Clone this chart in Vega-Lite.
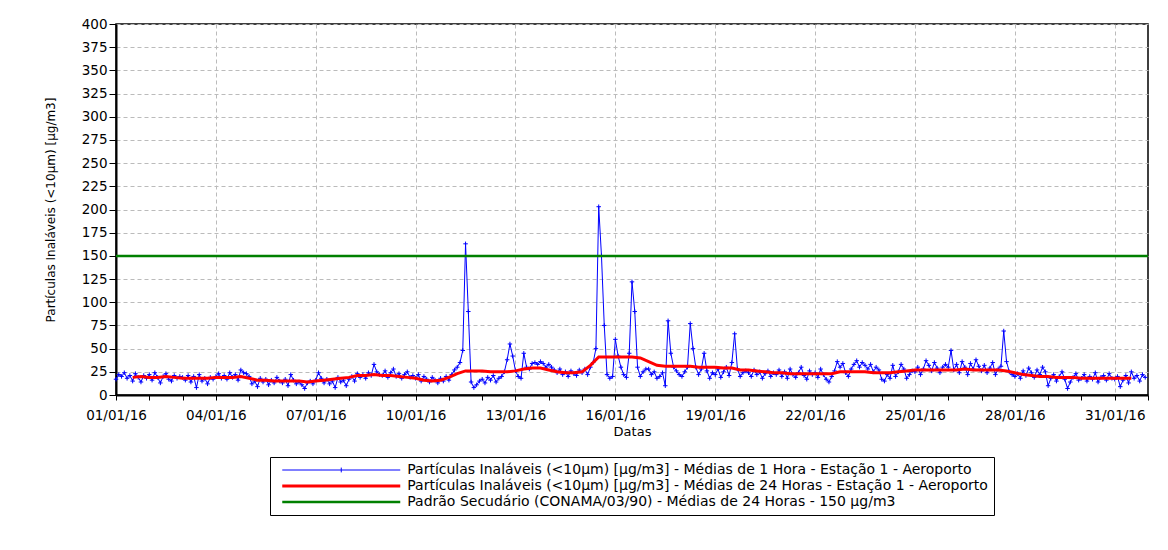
{
"$schema": "https://vega.github.io/schema/vega-lite/v6.json",
"autosize": {"type": "none"},
"width": 1032,
"height": 371,
"padding": {"left": 116, "top": 24, "right": 20, "bottom": 155},
"background": "white",
"config": {
  "font": "DejaVu Sans",
  "view": {"stroke": "#000", "strokeWidth": 1.5},
  "legend": {
    "orient": "none", "legendX": 154, "legendY": 433,
    "strokeColor": "#000", "fillColor": "#fff", "padding": 6,
    "rowPadding": 2, "labelFont": "DejaVu Sans", "labelFontSize": 14, "labelColor": "#000", "labelLimit": 1000,
    "symbolType": "M-14.75,0H14.75", "symbolSize": 64, "symbolOffset": 58.25, "labelOffset": 59, "symbolStrokeWidth": 3,
    "title": null
  }
},
"datasets": {
"h1": [
{"s":"h1","t":"2016-01-01T00:00","v":17},{"s":"h1","t":"2016-01-01T02:00","v":22},{"s":"h1","t":"2016-01-01T04:00","v":20},{"s":"h1","t":"2016-01-01T06:00","v":24},{"s":"h1","t":"2016-01-01T08:00","v":18},{"s":"h1","t":"2016-01-01T10:00","v":21},{"s":"h1","t":"2016-01-01T12:00","v":15},{"s":"h1","t":"2016-01-01T14:00","v":23},{"s":"h1","t":"2016-01-01T16:00","v":19},{"s":"h1","t":"2016-01-01T18:00","v":14},{"s":"h1","t":"2016-01-01T20:00","v":21},{"s":"h1","t":"2016-01-01T22:00","v":18},
{"s":"h1","t":"2016-01-02T00:00","v":22},{"s":"h1","t":"2016-01-02T02:00","v":16},{"s":"h1","t":"2016-01-02T04:00","v":24},{"s":"h1","t":"2016-01-02T06:00","v":19},{"s":"h1","t":"2016-01-02T08:00","v":13},{"s":"h1","t":"2016-01-02T10:00","v":20},{"s":"h1","t":"2016-01-02T12:00","v":23},{"s":"h1","t":"2016-01-02T14:00","v":17},{"s":"h1","t":"2016-01-02T16:00","v":15},{"s":"h1","t":"2016-01-02T18:00","v":21},{"s":"h1","t":"2016-01-02T20:00","v":18},{"s":"h1","t":"2016-01-02T22:00","v":20},
{"s":"h1","t":"2016-01-03T00:00","v":19},{"s":"h1","t":"2016-01-03T02:00","v":16},{"s":"h1","t":"2016-01-03T04:00","v":21},{"s":"h1","t":"2016-01-03T06:00","v":14},{"s":"h1","t":"2016-01-03T08:00","v":20},{"s":"h1","t":"2016-01-03T10:00","v":8},{"s":"h1","t":"2016-01-03T12:00","v":22},{"s":"h1","t":"2016-01-03T14:00","v":15},{"s":"h1","t":"2016-01-03T16:00","v":18},{"s":"h1","t":"2016-01-03T18:00","v":12},{"s":"h1","t":"2016-01-03T20:00","v":19},{"s":"h1","t":"2016-01-03T22:00","v":17},
{"s":"h1","t":"2016-01-04T00:00","v":20},{"s":"h1","t":"2016-01-04T02:00","v":23},{"s":"h1","t":"2016-01-04T04:00","v":18},{"s":"h1","t":"2016-01-04T06:00","v":21},{"s":"h1","t":"2016-01-04T08:00","v":17},{"s":"h1","t":"2016-01-04T10:00","v":24},{"s":"h1","t":"2016-01-04T12:00","v":19},{"s":"h1","t":"2016-01-04T14:00","v":22},{"s":"h1","t":"2016-01-04T16:00","v":16},{"s":"h1","t":"2016-01-04T18:00","v":27},{"s":"h1","t":"2016-01-04T20:00","v":24},{"s":"h1","t":"2016-01-04T22:00","v":23},
{"s":"h1","t":"2016-01-05T00:00","v":20},{"s":"h1","t":"2016-01-05T02:00","v":12},{"s":"h1","t":"2016-01-05T04:00","v":15},{"s":"h1","t":"2016-01-05T06:00","v":9},{"s":"h1","t":"2016-01-05T08:00","v":18},{"s":"h1","t":"2016-01-05T10:00","v":14},{"s":"h1","t":"2016-01-05T12:00","v":17},{"s":"h1","t":"2016-01-05T14:00","v":11},{"s":"h1","t":"2016-01-05T16:00","v":16},{"s":"h1","t":"2016-01-05T18:00","v":13},{"s":"h1","t":"2016-01-05T20:00","v":19},{"s":"h1","t":"2016-01-05T22:00","v":15},
{"s":"h1","t":"2016-01-06T00:00","v":13},{"s":"h1","t":"2016-01-06T02:00","v":17},{"s":"h1","t":"2016-01-06T04:00","v":10},{"s":"h1","t":"2016-01-06T06:00","v":22},{"s":"h1","t":"2016-01-06T08:00","v":16},{"s":"h1","t":"2016-01-06T10:00","v":12},{"s":"h1","t":"2016-01-06T12:00","v":14},{"s":"h1","t":"2016-01-06T14:00","v":11},{"s":"h1","t":"2016-01-06T16:00","v":7},{"s":"h1","t":"2016-01-06T18:00","v":13},{"s":"h1","t":"2016-01-06T20:00","v":15},{"s":"h1","t":"2016-01-06T22:00","v":12},
{"s":"h1","t":"2016-01-07T00:00","v":16},{"s":"h1","t":"2016-01-07T02:00","v":24},{"s":"h1","t":"2016-01-07T04:00","v":18},{"s":"h1","t":"2016-01-07T06:00","v":13},{"s":"h1","t":"2016-01-07T08:00","v":17},{"s":"h1","t":"2016-01-07T10:00","v":12},{"s":"h1","t":"2016-01-07T12:00","v":15},{"s":"h1","t":"2016-01-07T14:00","v":8},{"s":"h1","t":"2016-01-07T16:00","v":19},{"s":"h1","t":"2016-01-07T18:00","v":14},{"s":"h1","t":"2016-01-07T20:00","v":16},{"s":"h1","t":"2016-01-07T22:00","v":10},
{"s":"h1","t":"2016-01-08T00:00","v":17},{"s":"h1","t":"2016-01-08T02:00","v":20},{"s":"h1","t":"2016-01-08T04:00","v":15},{"s":"h1","t":"2016-01-08T06:00","v":23},{"s":"h1","t":"2016-01-08T08:00","v":19},{"s":"h1","t":"2016-01-08T10:00","v":22},{"s":"h1","t":"2016-01-08T12:00","v":18},{"s":"h1","t":"2016-01-08T14:00","v":24},{"s":"h1","t":"2016-01-08T16:00","v":21},{"s":"h1","t":"2016-01-08T18:00","v":33},{"s":"h1","t":"2016-01-08T20:00","v":25},{"s":"h1","t":"2016-01-08T22:00","v":22},
{"s":"h1","t":"2016-01-09T00:00","v":21},{"s":"h1","t":"2016-01-09T02:00","v":26},{"s":"h1","t":"2016-01-09T04:00","v":19},{"s":"h1","t":"2016-01-09T06:00","v":24},{"s":"h1","t":"2016-01-09T08:00","v":28},{"s":"h1","t":"2016-01-09T10:00","v":20},{"s":"h1","t":"2016-01-09T12:00","v":23},{"s":"h1","t":"2016-01-09T14:00","v":18},{"s":"h1","t":"2016-01-09T16:00","v":22},{"s":"h1","t":"2016-01-09T18:00","v":25},{"s":"h1","t":"2016-01-09T20:00","v":19},{"s":"h1","t":"2016-01-09T22:00","v":21},
{"s":"h1","t":"2016-01-10T00:00","v":18},{"s":"h1","t":"2016-01-10T02:00","v":22},{"s":"h1","t":"2016-01-10T04:00","v":15},{"s":"h1","t":"2016-01-10T06:00","v":20},{"s":"h1","t":"2016-01-10T08:00","v":17},{"s":"h1","t":"2016-01-10T10:00","v":14},{"s":"h1","t":"2016-01-10T12:00","v":19},{"s":"h1","t":"2016-01-10T14:00","v":16},{"s":"h1","t":"2016-01-10T16:00","v":13},{"s":"h1","t":"2016-01-10T18:00","v":18},{"s":"h1","t":"2016-01-10T20:00","v":15},{"s":"h1","t":"2016-01-10T22:00","v":20},
{"s":"h1","t":"2016-01-11T00:00","v":16},{"s":"h1","t":"2016-01-11T02:00","v":22},{"s":"h1","t":"2016-01-11T04:00","v":27},{"s":"h1","t":"2016-01-11T06:00","v":30},{"s":"h1","t":"2016-01-11T08:00","v":35},{"s":"h1","t":"2016-01-11T10:00","v":48},{"s":"h1","t":"2016-01-11T12:00","v":163},{"s":"h1","t":"2016-01-11T14:00","v":90},{"s":"h1","t":"2016-01-11T16:00","v":14},{"s":"h1","t":"2016-01-11T18:00","v":8},{"s":"h1","t":"2016-01-11T20:00","v":11},{"s":"h1","t":"2016-01-11T22:00","v":15},
{"s":"h1","t":"2016-01-12T00:00","v":17},{"s":"h1","t":"2016-01-12T02:00","v":13},{"s":"h1","t":"2016-01-12T04:00","v":19},{"s":"h1","t":"2016-01-12T06:00","v":16},{"s":"h1","t":"2016-01-12T08:00","v":21},{"s":"h1","t":"2016-01-12T10:00","v":14},{"s":"h1","t":"2016-01-12T12:00","v":18},{"s":"h1","t":"2016-01-12T14:00","v":20},{"s":"h1","t":"2016-01-12T16:00","v":25},{"s":"h1","t":"2016-01-12T18:00","v":38},{"s":"h1","t":"2016-01-12T20:00","v":55},{"s":"h1","t":"2016-01-12T22:00","v":42},
{"s":"h1","t":"2016-01-13T00:00","v":26},{"s":"h1","t":"2016-01-13T02:00","v":20},{"s":"h1","t":"2016-01-13T04:00","v":18},{"s":"h1","t":"2016-01-13T06:00","v":45},{"s":"h1","t":"2016-01-13T08:00","v":30},{"s":"h1","t":"2016-01-13T10:00","v":28},{"s":"h1","t":"2016-01-13T12:00","v":34},{"s":"h1","t":"2016-01-13T14:00","v":35},{"s":"h1","t":"2016-01-13T16:00","v":33},{"s":"h1","t":"2016-01-13T18:00","v":36},{"s":"h1","t":"2016-01-13T20:00","v":34},{"s":"h1","t":"2016-01-13T22:00","v":30},
{"s":"h1","t":"2016-01-14T00:00","v":33},{"s":"h1","t":"2016-01-14T02:00","v":30},{"s":"h1","t":"2016-01-14T04:00","v":27},{"s":"h1","t":"2016-01-14T06:00","v":24},{"s":"h1","t":"2016-01-14T08:00","v":28},{"s":"h1","t":"2016-01-14T10:00","v":22},{"s":"h1","t":"2016-01-14T12:00","v":25},{"s":"h1","t":"2016-01-14T14:00","v":20},{"s":"h1","t":"2016-01-14T16:00","v":26},{"s":"h1","t":"2016-01-14T18:00","v":23},{"s":"h1","t":"2016-01-14T20:00","v":21},{"s":"h1","t":"2016-01-14T22:00","v":27},
{"s":"h1","t":"2016-01-15T00:00","v":24},{"s":"h1","t":"2016-01-15T02:00","v":28},{"s":"h1","t":"2016-01-15T04:00","v":22},{"s":"h1","t":"2016-01-15T06:00","v":30},{"s":"h1","t":"2016-01-15T08:00","v":35},{"s":"h1","t":"2016-01-15T10:00","v":50},{"s":"h1","t":"2016-01-15T12:00","v":203},{"s":"h1","t":"2016-01-15T14:00","v":150},{"s":"h1","t":"2016-01-15T16:00","v":75},{"s":"h1","t":"2016-01-15T18:00","v":22},{"s":"h1","t":"2016-01-15T20:00","v":18},{"s":"h1","t":"2016-01-15T22:00","v":20},
{"s":"h1","t":"2016-01-16T00:00","v":60},{"s":"h1","t":"2016-01-16T02:00","v":42},{"s":"h1","t":"2016-01-16T04:00","v":30},{"s":"h1","t":"2016-01-16T06:00","v":22},{"s":"h1","t":"2016-01-16T08:00","v":19},{"s":"h1","t":"2016-01-16T10:00","v":45},{"s":"h1","t":"2016-01-16T12:00","v":122},{"s":"h1","t":"2016-01-16T14:00","v":90},{"s":"h1","t":"2016-01-16T16:00","v":30},{"s":"h1","t":"2016-01-16T18:00","v":20},{"s":"h1","t":"2016-01-16T20:00","v":25},{"s":"h1","t":"2016-01-16T22:00","v":28},
{"s":"h1","t":"2016-01-17T00:00","v":28},{"s":"h1","t":"2016-01-17T02:00","v":22},{"s":"h1","t":"2016-01-17T04:00","v":25},{"s":"h1","t":"2016-01-17T06:00","v":18},{"s":"h1","t":"2016-01-17T08:00","v":20},{"s":"h1","t":"2016-01-17T10:00","v":24},{"s":"h1","t":"2016-01-17T12:00","v":10},{"s":"h1","t":"2016-01-17T14:00","v":80},{"s":"h1","t":"2016-01-17T16:00","v":45},{"s":"h1","t":"2016-01-17T18:00","v":30},{"s":"h1","t":"2016-01-17T20:00","v":26},{"s":"h1","t":"2016-01-17T22:00","v":22},
{"s":"h1","t":"2016-01-18T00:00","v":20},{"s":"h1","t":"2016-01-18T02:00","v":25},{"s":"h1","t":"2016-01-18T04:00","v":30},{"s":"h1","t":"2016-01-18T06:00","v":77},{"s":"h1","t":"2016-01-18T08:00","v":50},{"s":"h1","t":"2016-01-18T10:00","v":30},{"s":"h1","t":"2016-01-18T12:00","v":22},{"s":"h1","t":"2016-01-18T14:00","v":28},{"s":"h1","t":"2016-01-18T16:00","v":45},{"s":"h1","t":"2016-01-18T18:00","v":26},{"s":"h1","t":"2016-01-18T20:00","v":18},{"s":"h1","t":"2016-01-18T22:00","v":24},
{"s":"h1","t":"2016-01-19T00:00","v":22},{"s":"h1","t":"2016-01-19T02:00","v":28},{"s":"h1","t":"2016-01-19T04:00","v":19},{"s":"h1","t":"2016-01-19T06:00","v":25},{"s":"h1","t":"2016-01-19T08:00","v":30},{"s":"h1","t":"2016-01-19T10:00","v":21},{"s":"h1","t":"2016-01-19T12:00","v":35},{"s":"h1","t":"2016-01-19T14:00","v":66},{"s":"h1","t":"2016-01-19T16:00","v":28},{"s":"h1","t":"2016-01-19T18:00","v":20},{"s":"h1","t":"2016-01-19T20:00","v":24},{"s":"h1","t":"2016-01-19T22:00","v":26},
{"s":"h1","t":"2016-01-20T00:00","v":24},{"s":"h1","t":"2016-01-20T02:00","v":20},{"s":"h1","t":"2016-01-20T04:00","v":27},{"s":"h1","t":"2016-01-20T06:00","v":22},{"s":"h1","t":"2016-01-20T08:00","v":25},{"s":"h1","t":"2016-01-20T10:00","v":18},{"s":"h1","t":"2016-01-20T12:00","v":23},{"s":"h1","t":"2016-01-20T14:00","v":26},{"s":"h1","t":"2016-01-20T16:00","v":20},{"s":"h1","t":"2016-01-20T18:00","v":24},{"s":"h1","t":"2016-01-20T20:00","v":22},{"s":"h1","t":"2016-01-20T22:00","v":27},
{"s":"h1","t":"2016-01-21T00:00","v":20},{"s":"h1","t":"2016-01-21T02:00","v":25},{"s":"h1","t":"2016-01-21T04:00","v":18},{"s":"h1","t":"2016-01-21T06:00","v":28},{"s":"h1","t":"2016-01-21T08:00","v":22},{"s":"h1","t":"2016-01-21T10:00","v":19},{"s":"h1","t":"2016-01-21T12:00","v":24},{"s":"h1","t":"2016-01-21T14:00","v":30},{"s":"h1","t":"2016-01-21T16:00","v":21},{"s":"h1","t":"2016-01-21T18:00","v":17},{"s":"h1","t":"2016-01-21T20:00","v":26},{"s":"h1","t":"2016-01-21T22:00","v":22},
{"s":"h1","t":"2016-01-22T00:00","v":24},{"s":"h1","t":"2016-01-22T02:00","v":19},{"s":"h1","t":"2016-01-22T04:00","v":28},{"s":"h1","t":"2016-01-22T06:00","v":22},{"s":"h1","t":"2016-01-22T08:00","v":17},{"s":"h1","t":"2016-01-22T10:00","v":14},{"s":"h1","t":"2016-01-22T12:00","v":20},{"s":"h1","t":"2016-01-22T14:00","v":26},{"s":"h1","t":"2016-01-22T16:00","v":36},{"s":"h1","t":"2016-01-22T18:00","v":30},{"s":"h1","t":"2016-01-22T20:00","v":34},{"s":"h1","t":"2016-01-22T22:00","v":24},
{"s":"h1","t":"2016-01-23T00:00","v":20},{"s":"h1","t":"2016-01-23T02:00","v":28},{"s":"h1","t":"2016-01-23T04:00","v":33},{"s":"h1","t":"2016-01-23T06:00","v":37},{"s":"h1","t":"2016-01-23T08:00","v":30},{"s":"h1","t":"2016-01-23T10:00","v":35},{"s":"h1","t":"2016-01-23T12:00","v":32},{"s":"h1","t":"2016-01-23T14:00","v":28},{"s":"h1","t":"2016-01-23T16:00","v":33},{"s":"h1","t":"2016-01-23T18:00","v":25},{"s":"h1","t":"2016-01-23T20:00","v":30},{"s":"h1","t":"2016-01-23T22:00","v":27},
{"s":"h1","t":"2016-01-24T00:00","v":17},{"s":"h1","t":"2016-01-24T02:00","v":15},{"s":"h1","t":"2016-01-24T04:00","v":22},{"s":"h1","t":"2016-01-24T06:00","v":18},{"s":"h1","t":"2016-01-24T08:00","v":32},{"s":"h1","t":"2016-01-24T10:00","v":20},{"s":"h1","t":"2016-01-24T12:00","v":25},{"s":"h1","t":"2016-01-24T14:00","v":33},{"s":"h1","t":"2016-01-24T16:00","v":28},{"s":"h1","t":"2016-01-24T18:00","v":18},{"s":"h1","t":"2016-01-24T20:00","v":22},{"s":"h1","t":"2016-01-24T22:00","v":26},
{"s":"h1","t":"2016-01-25T00:00","v":25},{"s":"h1","t":"2016-01-25T02:00","v":30},{"s":"h1","t":"2016-01-25T04:00","v":22},{"s":"h1","t":"2016-01-25T06:00","v":28},{"s":"h1","t":"2016-01-25T08:00","v":37},{"s":"h1","t":"2016-01-25T10:00","v":32},{"s":"h1","t":"2016-01-25T12:00","v":26},{"s":"h1","t":"2016-01-25T14:00","v":35},{"s":"h1","t":"2016-01-25T16:00","v":29},{"s":"h1","t":"2016-01-25T18:00","v":24},{"s":"h1","t":"2016-01-25T20:00","v":30},{"s":"h1","t":"2016-01-25T22:00","v":33},
{"s":"h1","t":"2016-01-26T00:00","v":30},{"s":"h1","t":"2016-01-26T02:00","v":48},{"s":"h1","t":"2016-01-26T04:00","v":27},{"s":"h1","t":"2016-01-26T06:00","v":33},{"s":"h1","t":"2016-01-26T08:00","v":24},{"s":"h1","t":"2016-01-26T10:00","v":36},{"s":"h1","t":"2016-01-26T12:00","v":30},{"s":"h1","t":"2016-01-26T14:00","v":22},{"s":"h1","t":"2016-01-26T16:00","v":34},{"s":"h1","t":"2016-01-26T18:00","v":28},{"s":"h1","t":"2016-01-26T20:00","v":38},{"s":"h1","t":"2016-01-26T22:00","v":31},
{"s":"h1","t":"2016-01-27T00:00","v":26},{"s":"h1","t":"2016-01-27T02:00","v":32},{"s":"h1","t":"2016-01-27T04:00","v":24},{"s":"h1","t":"2016-01-27T06:00","v":29},{"s":"h1","t":"2016-01-27T08:00","v":35},{"s":"h1","t":"2016-01-27T10:00","v":22},{"s":"h1","t":"2016-01-27T12:00","v":28},{"s":"h1","t":"2016-01-27T14:00","v":31},{"s":"h1","t":"2016-01-27T16:00","v":69},{"s":"h1","t":"2016-01-27T18:00","v":36},{"s":"h1","t":"2016-01-27T20:00","v":25},{"s":"h1","t":"2016-01-27T22:00","v":22},
{"s":"h1","t":"2016-01-28T00:00","v":20},{"s":"h1","t":"2016-01-28T02:00","v":23},{"s":"h1","t":"2016-01-28T04:00","v":18},{"s":"h1","t":"2016-01-28T06:00","v":26},{"s":"h1","t":"2016-01-28T08:00","v":21},{"s":"h1","t":"2016-01-28T10:00","v":29},{"s":"h1","t":"2016-01-28T12:00","v":24},{"s":"h1","t":"2016-01-28T14:00","v":19},{"s":"h1","t":"2016-01-28T16:00","v":27},{"s":"h1","t":"2016-01-28T18:00","v":22},{"s":"h1","t":"2016-01-28T20:00","v":30},{"s":"h1","t":"2016-01-28T22:00","v":25},
{"s":"h1","t":"2016-01-29T00:00","v":10},{"s":"h1","t":"2016-01-29T02:00","v":18},{"s":"h1","t":"2016-01-29T04:00","v":22},{"s":"h1","t":"2016-01-29T06:00","v":15},{"s":"h1","t":"2016-01-29T08:00","v":20},{"s":"h1","t":"2016-01-29T10:00","v":25},{"s":"h1","t":"2016-01-29T12:00","v":17},{"s":"h1","t":"2016-01-29T14:00","v":7},{"s":"h1","t":"2016-01-29T16:00","v":14},{"s":"h1","t":"2016-01-29T18:00","v":19},{"s":"h1","t":"2016-01-29T20:00","v":23},{"s":"h1","t":"2016-01-29T22:00","v":16},
{"s":"h1","t":"2016-01-30T00:00","v":18},{"s":"h1","t":"2016-01-30T02:00","v":22},{"s":"h1","t":"2016-01-30T04:00","v":15},{"s":"h1","t":"2016-01-30T06:00","v":20},{"s":"h1","t":"2016-01-30T08:00","v":17},{"s":"h1","t":"2016-01-30T10:00","v":24},{"s":"h1","t":"2016-01-30T12:00","v":14},{"s":"h1","t":"2016-01-30T14:00","v":19},{"s":"h1","t":"2016-01-30T16:00","v":21},{"s":"h1","t":"2016-01-30T18:00","v":16},{"s":"h1","t":"2016-01-30T20:00","v":23},{"s":"h1","t":"2016-01-30T22:00","v":18},
{"s":"h1","t":"2016-01-31T00:00","v":17},{"s":"h1","t":"2016-01-31T02:00","v":20},{"s":"h1","t":"2016-01-31T04:00","v":9},{"s":"h1","t":"2016-01-31T06:00","v":16},{"s":"h1","t":"2016-01-31T08:00","v":21},{"s":"h1","t":"2016-01-31T10:00","v":13},{"s":"h1","t":"2016-01-31T12:00","v":25},{"s":"h1","t":"2016-01-31T14:00","v":18},{"s":"h1","t":"2016-01-31T16:00","v":21},{"s":"h1","t":"2016-01-31T18:00","v":15},{"s":"h1","t":"2016-01-31T20:00","v":22},{"s":"h1","t":"2016-01-31T22:00","v":19}
],
"h24": [
{"s":"h24","t":"2016-01-01T12:00","v":19},{"s":"h24","t":"2016-01-01T18:00","v":20},
{"s":"h24","t":"2016-01-02T00:00","v":19},{"s":"h24","t":"2016-01-02T06:00","v":19},{"s":"h24","t":"2016-01-02T12:00","v":20},{"s":"h24","t":"2016-01-02T18:00","v":19},
{"s":"h24","t":"2016-01-03T00:00","v":18},{"s":"h24","t":"2016-01-03T06:00","v":18},{"s":"h24","t":"2016-01-03T12:00","v":18},{"s":"h24","t":"2016-01-03T18:00","v":18},
{"s":"h24","t":"2016-01-04T00:00","v":19},{"s":"h24","t":"2016-01-04T06:00","v":19},{"s":"h24","t":"2016-01-04T12:00","v":19},{"s":"h24","t":"2016-01-04T18:00","v":20},
{"s":"h24","t":"2016-01-05T00:00","v":18},{"s":"h24","t":"2016-01-05T06:00","v":16},{"s":"h24","t":"2016-01-05T12:00","v":16},{"s":"h24","t":"2016-01-05T18:00","v":15},
{"s":"h24","t":"2016-01-06T00:00","v":15},{"s":"h24","t":"2016-01-06T06:00","v":15},{"s":"h24","t":"2016-01-06T12:00","v":15},{"s":"h24","t":"2016-01-06T18:00","v":14},
{"s":"h24","t":"2016-01-07T00:00","v":15},{"s":"h24","t":"2016-01-07T06:00","v":16},{"s":"h24","t":"2016-01-07T12:00","v":17},{"s":"h24","t":"2016-01-07T18:00","v":18},
{"s":"h24","t":"2016-01-08T00:00","v":19},{"s":"h24","t":"2016-01-08T06:00","v":21},{"s":"h24","t":"2016-01-08T12:00","v":21},{"s":"h24","t":"2016-01-08T18:00","v":22},
{"s":"h24","t":"2016-01-09T00:00","v":21},{"s":"h24","t":"2016-01-09T06:00","v":21},{"s":"h24","t":"2016-01-09T12:00","v":20},{"s":"h24","t":"2016-01-09T18:00","v":19},
{"s":"h24","t":"2016-01-10T00:00","v":18},{"s":"h24","t":"2016-01-10T06:00","v":16},{"s":"h24","t":"2016-01-10T12:00","v":15},{"s":"h24","t":"2016-01-10T18:00","v":16},
{"s":"h24","t":"2016-01-11T00:00","v":19},{"s":"h24","t":"2016-01-11T06:00","v":23},{"s":"h24","t":"2016-01-11T12:00","v":26},{"s":"h24","t":"2016-01-11T18:00","v":26},
{"s":"h24","t":"2016-01-12T00:00","v":26},{"s":"h24","t":"2016-01-12T06:00","v":25},{"s":"h24","t":"2016-01-12T12:00","v":25},{"s":"h24","t":"2016-01-12T18:00","v":25},
{"s":"h24","t":"2016-01-13T00:00","v":26},{"s":"h24","t":"2016-01-13T06:00","v":28},{"s":"h24","t":"2016-01-13T12:00","v":29},{"s":"h24","t":"2016-01-13T18:00","v":29},
{"s":"h24","t":"2016-01-14T00:00","v":27},{"s":"h24","t":"2016-01-14T06:00","v":25},{"s":"h24","t":"2016-01-14T12:00","v":24},{"s":"h24","t":"2016-01-14T18:00","v":24},
{"s":"h24","t":"2016-01-15T00:00","v":25},{"s":"h24","t":"2016-01-15T06:00","v":32},{"s":"h24","t":"2016-01-15T12:00","v":41},{"s":"h24","t":"2016-01-15T18:00","v":41},
{"s":"h24","t":"2016-01-16T00:00","v":41},{"s":"h24","t":"2016-01-16T06:00","v":41},{"s":"h24","t":"2016-01-16T12:00","v":41},{"s":"h24","t":"2016-01-16T18:00","v":40},
{"s":"h24","t":"2016-01-17T00:00","v":36},{"s":"h24","t":"2016-01-17T06:00","v":32},{"s":"h24","t":"2016-01-17T12:00","v":31},{"s":"h24","t":"2016-01-17T18:00","v":31},
{"s":"h24","t":"2016-01-18T00:00","v":31},{"s":"h24","t":"2016-01-18T06:00","v":31},{"s":"h24","t":"2016-01-18T12:00","v":30},{"s":"h24","t":"2016-01-18T18:00","v":30},
{"s":"h24","t":"2016-01-19T00:00","v":30},{"s":"h24","t":"2016-01-19T06:00","v":29},{"s":"h24","t":"2016-01-19T12:00","v":29},{"s":"h24","t":"2016-01-19T18:00","v":27},
{"s":"h24","t":"2016-01-20T00:00","v":27},{"s":"h24","t":"2016-01-20T06:00","v":26},{"s":"h24","t":"2016-01-20T12:00","v":25},{"s":"h24","t":"2016-01-20T18:00","v":24},
{"s":"h24","t":"2016-01-21T00:00","v":24},{"s":"h24","t":"2016-01-21T06:00","v":23},{"s":"h24","t":"2016-01-21T12:00","v":23},{"s":"h24","t":"2016-01-21T18:00","v":23},
{"s":"h24","t":"2016-01-22T00:00","v":23},{"s":"h24","t":"2016-01-22T06:00","v":23},{"s":"h24","t":"2016-01-22T12:00","v":23},{"s":"h24","t":"2016-01-22T18:00","v":25},
{"s":"h24","t":"2016-01-23T00:00","v":25},{"s":"h24","t":"2016-01-23T06:00","v":25},{"s":"h24","t":"2016-01-23T12:00","v":25},{"s":"h24","t":"2016-01-23T18:00","v":24},
{"s":"h24","t":"2016-01-24T00:00","v":24},{"s":"h24","t":"2016-01-24T06:00","v":24},{"s":"h24","t":"2016-01-24T12:00","v":25},{"s":"h24","t":"2016-01-24T18:00","v":26},
{"s":"h24","t":"2016-01-25T00:00","v":27},{"s":"h24","t":"2016-01-25T06:00","v":27},{"s":"h24","t":"2016-01-25T12:00","v":27},{"s":"h24","t":"2016-01-25T18:00","v":27},
{"s":"h24","t":"2016-01-26T00:00","v":27},{"s":"h24","t":"2016-01-26T06:00","v":27},{"s":"h24","t":"2016-01-26T12:00","v":28},{"s":"h24","t":"2016-01-26T18:00","v":27},
{"s":"h24","t":"2016-01-27T00:00","v":27},{"s":"h24","t":"2016-01-27T06:00","v":27},{"s":"h24","t":"2016-01-27T12:00","v":27},{"s":"h24","t":"2016-01-27T18:00","v":26},
{"s":"h24","t":"2016-01-28T00:00","v":24},{"s":"h24","t":"2016-01-28T06:00","v":22},{"s":"h24","t":"2016-01-28T12:00","v":21},{"s":"h24","t":"2016-01-28T18:00","v":20},
{"s":"h24","t":"2016-01-29T00:00","v":20},{"s":"h24","t":"2016-01-29T06:00","v":19},{"s":"h24","t":"2016-01-29T12:00","v":19},{"s":"h24","t":"2016-01-29T18:00","v":19},
{"s":"h24","t":"2016-01-30T00:00","v":18},{"s":"h24","t":"2016-01-30T06:00","v":18},{"s":"h24","t":"2016-01-30T12:00","v":18},{"s":"h24","t":"2016-01-30T18:00","v":18},
{"s":"h24","t":"2016-01-31T00:00","v":18},{"s":"h24","t":"2016-01-31T06:00","v":18},{"s":"h24","t":"2016-01-31T12:00","v":18}
],
"pad": [{"s":"pad","v":150}]
},
"encoding": {
  "y": {"field": "v", "type": "quantitative",
    "scale": {"domain": [0, 400], "nice": false},
    "axis": {"title": "Partículas Inaláveis (<10µm) [µg/m3]", "titleFont": "DejaVu Sans", "titleFontSize": 12, "titleFontWeight": "normal", "titleColor": "#000", "titlePadding": 24,
      "values": [0,25,50,75,100,125,150,175,200,225,250,275,300,325,350,375,400],
      "labelFontSize": 13.5, "labelColor": "#000", "labelPadding": 2, "labelOverlap": false, "labelFlush": false,
      "domainColor": "#000", "domainWidth": 2, "tickColor": "#000", "tickSize": 7,
      "grid": true, "gridColor": "#bbbbbb", "gridDash": [4, 3]}}
},
"layer": [
{
  "data": {"name": "h1"},
  "mark": {"type": "line", "strokeWidth": 1, "point": {"shape": "M-1,0H1M0,-1V1", "filled": false, "size": 20, "strokeWidth": 1}},
  "encoding": {
    "x": {"field": "t", "type": "temporal",
      "scale": {"domain": [{"year": 2016, "month": 1, "date": 1}, {"year": 2016, "month": 2, "date": 1}], "nice": false},
      "axis": {"title": "Datas", "titleFont": "DejaVu Sans", "titleFontSize": 13, "titleFontWeight": "normal", "titleColor": "#000", "titlePadding": 4,
        "tickCount": {"interval": "day", "step": 1},
        "labelExpr": "month(datum.value)==0 && (date(datum.value)-1)%3==0 ? timeFormat(datum.value, '%d/%m/%y') : ''",
        "labelFontSize": 13.5, "labelColor": "#000", "labelPadding": 8, "labelOverlap": false, "labelFlush": false,
        "domainColor": "#000", "domainWidth": 2, "tickColor": "#000", "tickSize": 5,
        "grid": true, "gridColor": "#bbbbbb", "gridDash": [4, 3],
        "gridOpacity": {"condition": {"test": "month(datum.value)==0 && (date(datum.value)-1)%3==0", "value": 1}, "value": 0}}},
    "color": {"field": "s", "type": "nominal",
      "scale": {"domain": ["h1", "h24", "pad"], "range": ["#0000ff", "#ff0000", "#008000"]},
      "legend": {"labelExpr": "datum.value=='h1' ? 'Partículas Inaláveis (<10µm) [µg/m3] - Médias de 1 Hora - Estação 1 - Aeroporto' : datum.value=='h24' ? 'Partículas Inaláveis (<10µm) [µg/m3] - Médias de 24 Horas - Estação 1 - Aeroporto' : 'Padrão Secudário (CONAMA/03/90) - Médias de 24 Horas - 150 µg/m3'",
        "encode": {"symbols": {"update": {
          "shape": {"signal": "datum.value=='h1' ? 'M-14.75,0H14.75M0,-0.6V0.6' : 'M-14.75,0H14.75'"},
          "strokeWidth": {"signal": "datum.value=='h1' ? 1 : (datum.value=='h24' ? 3 : 2.5)"}}}}}}
  }
},
{
  "data": {"name": "h24"},
  "mark": {"type": "line", "strokeWidth": 3},
  "encoding": {
    "x": {"field": "t", "type": "temporal"},
    "color": {"field": "s", "type": "nominal"}
  }
},
{
  "data": {"name": "pad"},
  "mark": {"type": "rule", "strokeWidth": 2.5},
  "encoding": {
    "color": {"field": "s", "type": "nominal"}
  }
}
]
}
